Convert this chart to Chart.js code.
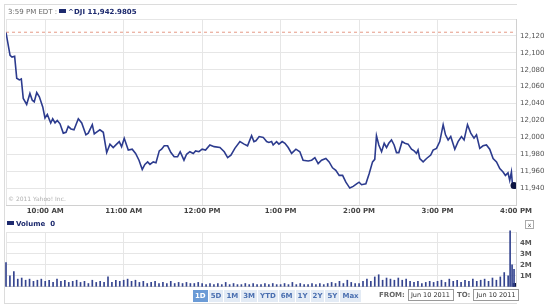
<!DOCTYPE html>
<html>
<head>
<meta charset="utf-8">
<script src="https://cdn.jsdelivr.net/npm/chart.js@4"></script>
<style>
  body { margin: 0; width: 550px; height: 305px; background: #fff; font-family: 'DejaVu Sans', Verdana, sans-serif; position: relative; overflow: hidden; }
  #frame { position: absolute; left: 4px; top: 4px; width: 512px; height: 298px; border: 1px solid #dcdcdc; border-right: none; }
  #head { position: absolute; left: 8px; top: 8px; font-size: 7px; color: #666; white-space: nowrap; }
  #head b { color: #1d2a6e; }
  .sq { display: inline-block; width: 7px; height: 4px; background: #1d2a6e; margin: 0 2px 0 2px; vertical-align: 1px; }
  #copy { position: absolute; left: 8px; top: 195px; font-size: 6px; color: #b0b0b0; }
  #vol { position: absolute; left: 7px; top: 220px; font-size: 7px; color: #1d2a6e; font-weight: bold; }
  #close { position: absolute; left: 525px; top: 220px; width: 7px; height: 7px; border: 1px solid #aaa; font-size: 6px; line-height: 7px; text-align: center; color: #555; }
  #btns { position: absolute; left: 193px; top: 290px; display: flex; gap: 1px; }
  #btns span { font-size: 7px; font-weight: bold; color: #4a6fb0; background: #e3ebf5; padding: 2px 2px; height: 8px; line-height: 8px; }
  #btns span.on { background: #6b9bd6; color: #fff; }
  #range { position: absolute; left: 379px; top: 289px; font-size: 7px; font-weight: bold; color: #666; display: flex; align-items: center; gap: 3px; white-space: nowrap; }
  #range i { font-style: normal; font-weight: normal; border: 1px solid #999; padding: 1px 2px; width: 40px; color: #333; white-space: nowrap; font-size: 6.5px; }
  #c1 { position: absolute; left: 0; top: 0; }
  #c2 { position: absolute; left: 0; top: 220px; }
</style>
</head>
<body>
<div id="frame"></div>
<canvas id="c1" width="550" height="220"></canvas>
<canvas id="c2" width="550" height="75"></canvas>
<div id="head">3:59 PM EDT :<span class="sq"></span><b>^DJI 11,942.9805</b></div>
<div id="copy">© 2011 Yahoo! Inc.</div>
<div id="vol"><span class="sq" style="margin-left:0"></span>Volume &nbsp;0</div>
<div id="close">x</div>
<div id="btns"><span class="on">1D</span><span>5D</span><span>1M</span><span>3M</span><span>YTD</span><span>6M</span><span>1Y</span><span>2Y</span><span>5Y</span><span>Max</span></div>
<div id="range">FROM: <i>Jun 10 2011</i> TO: <i>Jun 10 2011</i></div>
<script>
// minutes after 9:30 AM
const times = [0, 3.1, 4.6, 6.6, 8.2, 10.2, 11.7, 13.2, 15.8, 18.3, 20.1, 21.6, 23.5, 25.5, 28.1, 29.8,
  31.6, 34.2, 35.7, 37.5, 39.2, 41.3, 43.8, 45.9, 47.6, 49.7, 52, 55.3, 57.9, 61.1, 62.9, 66, 67.5,
  70.1, 71.8, 74.4, 77, 79.5, 82, 84.6, 86.6, 88.4, 90.4, 93.5, 96.5, 99.1, 101.7, 104.2, 106.2,
  108.3, 110.1, 112.6, 114.7, 117.2, 119, 121, 123.6, 126.1, 128.6, 131.2, 133.2, 136.1, 138.1,
  140.6, 143.2, 145, 147.5, 150, 152.6, 155.9, 159.2, 163.6, 166.9, 169.5, 172, 175, 178.9, 182.1,
  184.7, 187.8, 189.6, 191.1, 193.6, 196.7, 199.3, 201, 203.1, 204.3, 206.9, 208.7, 211.2, 213.3,
  215.8, 218.4, 221.7, 224.7, 227.2, 231.1, 233.7, 236.2, 238.7, 241.3, 244.6, 247.1, 249.7, 252.2,
  254.8, 257.4, 259.9, 262.9, 265.5, 268.1, 270, 271.9, 275.2, 277.7, 280.3, 282, 283.3, 285.1,
  287.2, 289.2, 291, 292.7, 294.8, 296.8, 298.6, 300.4, 302.9, 305, 307.5, 310.1, 312.1, 313.9,
  315.1, 316.4, 319, 321.6, 324.8, 326.6, 329.2, 331.7, 334.3, 336.1, 338.1, 340.1, 343.2, 345.7,
  348.3, 350.3, 352.9, 355.4, 357.9, 359.8, 362.3, 364.8, 367.4, 369.9, 372.5, 375.1, 377.6, 380.1,
  381.9, 383.9, 385.2, 386.5, 387.3, 388.5];
const prices = [12124, 12097, 12095, 12096, 12070, 12068, 12069, 12046, 12039, 12052, 12044, 12042, 12053, 12048, 12036, 12023,
  12027, 12017, 12022, 12017, 12020, 12016, 12005, 12006, 12013, 12010, 12009, 12022, 12017, 12003, 12005, 12015, 12004,
  12007, 12009, 12006, 11982, 11992, 11988, 11992, 11995, 11989, 11999, 11985, 11986, 11981, 11973, 11962, 11968,
  11971, 11968, 11971, 11970, 11984, 11986, 11990, 11990, 11982, 11977, 11977, 11983, 11973, 11980,
  11983, 11981, 11984, 11983, 11986, 11985, 11991, 11989, 11988, 11983, 11976, 11979, 11987, 11995, 11992,
  11990, 12002, 11995, 11996, 12001, 12000, 11995, 11994, 11995, 11991, 11995, 11992, 11995, 11993,
  11988, 11981, 11986, 11983, 11973, 11972, 11973, 11976, 11969, 11973, 11975, 11971, 11964, 11961,
  11955, 11955, 11947, 11940, 11942, 11945, 11947, 11944, 11945, 11957, 11971, 11974, 12002, 11991,
  11983, 11993, 11988, 11993, 11997, 11991, 11982, 11982, 11995, 11993, 11992, 11986, 11984, 11981,
  11985, 11975, 11971, 11975, 11979, 11985, 11987, 11995, 12015, 12003, 11997, 12001, 11986, 11995,
  12001, 11997, 12015, 12005, 11999, 12003, 11987, 11990, 11991, 11986, 11975, 11971, 11963, 11959,
  11955, 11958, 11949, 11959, 11944, 11943];
const prevClose = 12124.36;

const volTimes = [0, 3, 6, 9, 12, 15, 18, 21, 24, 27, 30, 33, 36, 39, 42, 45, 48, 51, 54, 57,
  60, 63, 66, 69, 72, 75, 78, 81, 84, 87, 90, 93, 96, 99, 102, 105, 108, 111, 114, 117,
  120, 123, 126, 129, 132, 135, 138, 141, 144, 147, 150, 153, 156, 159, 162, 165, 168, 171, 174, 177,
  180, 183, 186, 189, 192, 195, 198, 201, 204, 207, 210, 213, 216, 219, 222, 225, 228, 231, 234, 237,
  240, 243, 246, 249, 252, 255, 258, 261, 264, 267, 270, 273, 276, 279, 282, 285, 288, 291, 294, 297,
  300, 303, 306, 309, 312, 315, 318, 321, 324, 327, 330, 333, 336, 339, 342, 345, 348, 351, 354, 357,
  360, 363, 366, 369, 372, 375, 378, 381, 384, 385.5, 387, 388.5];
// volume in millions of shares
const volumes = [2.2, 1.0, 1.4, 0.7, 0.8, 0.6, 0.7, 0.5, 0.6, 0.7, 0.5, 0.6, 0.4, 0.7, 0.5, 0.6, 0.4, 0.5, 0.6, 0.4,
  0.5, 0.3, 0.6, 0.4, 0.5, 0.4, 0.9, 0.4, 0.6, 0.5, 0.6, 0.7, 0.5, 0.6, 0.4, 0.5, 0.3, 0.4, 0.5, 0.3,
  0.4, 0.3, 0.5, 0.3, 0.4, 0.3, 0.4, 0.3, 0.3, 0.4, 0.3, 0.2, 0.3, 0.2, 0.3, 0.2, 0.4, 0.2, 0.3, 0.2,
  0.2, 0.3, 0.2, 0.3, 0.2, 0.2, 0.3, 0.2, 0.3, 0.2, 0.2, 0.3, 0.2, 0.4, 0.2, 0.3, 0.2, 0.2, 0.3, 0.2,
  0.3, 0.2, 0.3, 0.4, 0.3, 0.5, 0.3, 0.6, 0.4, 0.3, 0.3, 0.5, 0.7, 0.5, 0.9, 1.1, 0.6, 0.8, 0.7, 0.6,
  0.8, 0.6, 0.7, 0.5, 0.4, 0.5, 0.3, 0.4, 0.5, 0.4, 0.5, 0.6, 0.4, 0.7, 0.5, 0.6, 0.4, 0.6, 0.5, 0.7,
  0.5, 0.6, 0.7, 0.5, 0.8, 0.6, 0.9, 1.3, 1.0, 5.1, 2.0, 1.6];
const lastVolume = 0.15;

const hourTicks = [0, 30, 90, 150, 210, 270, 330, 390];
const hourLabels = ['', '10:00 AM', '11:00 AM', '12:00 PM', '1:00 PM', '2:00 PM', '3:00 PM', '4:00 PM'];
const priceTicks = [11920, 11940, 11960, 11980, 12000, 12020, 12040, 12060, 12080, 12100, 12120, 12140];
const volTicks = [0, 1, 2, 3, 4, 5];

Chart.defaults.font.family = "'DejaVu Sans', Verdana, sans-serif";
Chart.defaults.font.size = 7;
Chart.defaults.animation = false;

const gridColor = '#e6e6e6';
const lineColor = '#2c3b8e';

const priceChart = new Chart(document.getElementById('c1'), {
    type: 'line',
    data: {
        datasets: [
            {
                data: times.map((t, i) => ({ x: t, y: prices[i] })),
                borderColor: lineColor,
                borderWidth: 1.6,
                tension: 0,
                pointRadius: ctx => ctx.dataIndex === times.length - 1 ? 3.5 : 0,
                pointBackgroundColor: '#0b1340',
                pointBorderWidth: 0
            },
            {
                data: [{ x: 0, y: prevClose }, { x: 390, y: prevClose }],
                borderColor: '#e59a86',
                borderWidth: 1,
                borderDash: [3, 3],
                pointRadius: 0
            }
        ]
    },
    options: {
        responsive: false,
        layout: { padding: { left: 6, top: 19, right: 0, bottom: 0 } },
        plugins: { legend: { display: false }, tooltip: { enabled: false } },
        scales: {
            x: {
                type: 'linear',
                min: 0,
                max: 390,
                afterBuildTicks: s => { s.ticks = hourTicks.map(v => ({ value: v })); },
                afterFit: s => { s.height = 15; },
                ticks: {
                    autoSkip: false,
                    maxRotation: 0,
                    padding: 2,
                    color: '#444',
                    font: { weight: 'bold', size: 7 },
                    callback: v => hourLabels[hourTicks.indexOf(v)]
                },
                grid: { color: gridColor, drawTicks: false },
                border: { color: '#d0d0d0' }
            },
            y: {
                position: 'right',
                min: 11920,
                max: 12140,
                afterBuildTicks: s => { s.ticks = priceTicks.map(v => ({ value: v })); },
                afterFit: s => { s.width = 34; },
                ticks: {
                    autoSkip: false,
                    padding: 4,
                    color: '#555',
                    callback: v => (v === 11920 || v === 12140) ? '' : v.toLocaleString('en-US')
                },
                grid: { color: gridColor, drawTicks: false },
                border: { color: '#d0d0d0' }
            }
        }
    }
});

const volumeChart = new Chart(document.getElementById('c2'), {
    type: 'bar',
    data: {
        datasets: [
            {
                data: volTimes.map((t, i) => ({ x: t, y: volumes[i] })),
                backgroundColor: '#34448f',
                barThickness: 1,
                clip: false
            },
            {
                type: 'scatter',
                data: [{ x: 389, y: lastVolume }],
                pointStyle: 'rect',
                pointRadius: 3,
                backgroundColor: '#0b1340',
                borderWidth: 0
            }
        ]
    },
    options: {
        responsive: false,
        layout: { padding: { left: 6, top: 12, right: 0, bottom: 0 } },
        plugins: { legend: { display: false }, tooltip: { enabled: false } },
        scales: {
            x: {
                type: 'linear',
                min: 0,
                max: 390,
                offset: false,
                afterBuildTicks: s => { s.ticks = hourTicks.map(v => ({ value: v })); },
                afterFit: s => { s.height = 1; },
                ticks: { display: false },
                grid: { color: gridColor, drawTicks: false, offset: false },
                border: { color: '#d0d0d0' }
            },
            y: {
                position: 'right',
                min: 0,
                max: 5,
                afterBuildTicks: s => { s.ticks = volTicks.map(v => ({ value: v })); },
                afterFit: s => { s.width = 34; },
                ticks: {
                    autoSkip: false,
                    padding: 4,
                    color: '#555',
                    font: { weight: 'bold', size: 7 },
                    callback: v => (v === 0 || v === 5) ? '' : v + 'M'
                },
                grid: { color: gridColor, drawTicks: false },
                border: { color: '#d0d0d0' }
            }
        }
    }
});
</script>
</body>
</html>
